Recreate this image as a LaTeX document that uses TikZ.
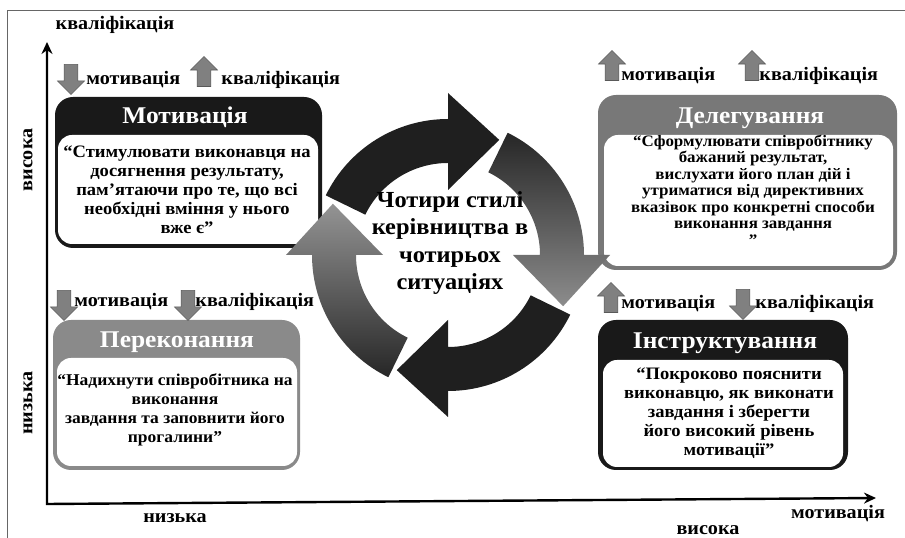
\documentclass[tikz,border=0pt]{standalone}
\usepackage{fontspec}
\setmainfont{Liberation Serif}[FakeStretch=1.06]
\usetikzlibrary{arrows.meta,positioning,shapes.arrows}
\tikzset{>={Stealth[length=12pt,width=11pt]}}

\begin{document}
\begin{tikzpicture}[x=1pt,y=1pt,font=\bfseries]
	\tikzset{outer/.style={rectangle, rounded corners=18pt, inner sep=0pt},
		inbox/.style={rectangle, rounded corners=14pt, fill=white, inner sep=0pt},
		body/.style={align=center, inner sep=0pt, font=\bfseries\fontsize{17.5}{19}\selectfont},
		title/.style={text=white, inner sep=0pt, font=\bfseries\fontsize{24}{26}\selectfont},
		lbl/.style={inner sep=0pt, font=\bfseries\fontsize{19}{20}\selectfont},
		uparr/.style={single arrow, shape border rotate=90, fill=black!50, draw=black!65,
			line width=.6pt, inner sep=6.5pt, minimum height=30pt, minimum width=27pt,
			single arrow head extend=6.5pt, single arrow head indent=0pt},
		dnarr/.style={uparr, shape border rotate=270},
		ringdark/.style={fill=black!88},
		ringgrayup/.style={top color=black!42, bottom color=black!85},
		ringgraydn/.style={top color=black!85, bottom color=black!45},
	}
	\useasboundingbox (0,0) rectangle (905,538);
	\draw[black!60, line width=1.4pt] (7.5,0) -- (7.5,527.5) -- (905,527.5);
	
	% axes
	\coordinate (o) at (47,34);
	\coordinate (ytip) at (47,496);
	\coordinate (xtip) at (876,40);
	\draw[<->, line width=2.4pt] (ytip) -- (o) -- (xtip);
	\node [lbl] (ytop) at (115,513) {кваліфікація};
	\node [lbl, rotate=90] (yhigh) at (28,378) {висока};
	\node [lbl, rotate=90] (ylow) at (28,135) {низька};
	\node [lbl] (xlow) at (175,20) {низька};
	\node [lbl, anchor=base] (xhigh) at (708,3) {висока};
	\node [lbl, anchor=base] (xmot) at (838,19) {мотивація};
	
	% boxes
	\node [outer, fill=black!90, minimum width=267pt, minimum height=151pt] (motbox) at (188.5,365.5) {};
	\node [inbox, minimum width=260pt, minimum height=109pt] (motin) at (188,348.5) {};
	\node [title] (mottl) at (185,421) {Мотивація};
	\node [body] (mottx) at (187,348)
	{“Стимулювати виконавця на\\досягнення результату,\\пам’ятаючи про те, що всі\\необхідні вміння у нього\\вже є”};
	
	\node [outer, fill=black!46, minimum width=247pt, minimum height=150pt] (perbox) at (176.5,143) {};
	\node [inbox, minimum width=240pt, minimum height=108pt] (perin) at (177,126) {};
	\node [title] (pertl) at (177,196) {Переконання};
	\node [body, font=\bfseries\fontsize{16.5}{19}\selectfont] (pertx) at (175,128)
	{“Надихнути співробітника на\\виконання\\завдання та заповнити його\\прогалини”};
	
	\node [outer, fill=black!53, minimum width=299pt, minimum height=175pt] (delbox) at (747.5,355.5) {};
	\node [inbox, minimum width=289pt, minimum height=131pt] (delin) at (748.5,337.5) {};
	\node [title] (deltl) at (750,420) {Делегування};
	\node [body, font=\bfseries\fontsize{16}{16.5}\selectfont] (deltx) at (753,348)
	{“Сформулювати співробітнику\\бажаний результат,\\вислухати його план дій і\\утриматися від директивних\\вказівок про конкретні способи\\виконання завдання\\”};
	
	\node [outer, fill=black!90, minimum width=250pt, minimum height=150pt] (insbox) at (723,143) {};
	\node [inbox, minimum width=240pt, minimum height=107pt] (insin) at (723,124.5) {};
	\node [title] (instl) at (725,195) {Інструктування};
	\node [body] (instx) at (729,125)
	{“Покроково пояснити\\виконавцю, як виконати\\завдання і зберегти\\його високий рівень\\мотивації”};
	
	% small arrows
	\node [dnarr] (tla) at (71,462) {};
	\node [lbl, right=8pt of tla, yshift=-4pt] (tlm) {мотивація};
	\node [uparr] (tlb) at (204,463) {};
	\node [lbl, right=10pt of tlb, yshift=-5pt] (tlk) {кваліфікація};
	\node [uparr] (tra) at (612,469) {};
	\node [lbl, right=2pt of tra, yshift=-7pt] (trm) {мотивація};
	\node [uparr] (trb) at (752,469) {};
	\node [lbl, right=0pt of trb, yshift=-7pt] (trk) {кваліфікація};
	\node [dnarr] (bla) at (64,236) {};
	\node [lbl, right=3pt of bla] (blm) {мотивація};
	\node [dnarr] (blb) at (188,236) {};
	\node [lbl, right=0pt of blb] (blk) {кваліфікація};
	\node [uparr] (bra) at (611,237) {};
	\node [lbl, right=3pt of bra, yshift=-3pt] (brm) {мотивація};
	\node [dnarr] (brb) at (743,237) {};
	\node [lbl, right=5pt of brb, yshift=-3pt] (brk) {кваліфікація};
	
	% cycle
	\begin{scope}[shift={(448,283)}]
		\foreach \a/\s in {90/ringdark,0/ringgraydn,-90/ringdark,180/ringgrayup}
		\path[style=\s] ({\a+64}:136) arc[start angle=\a+64, end angle=\a, radius=136]
			-- (\a:162) -- ({\a-24}:126) -- (\a:65) -- (\a:92)
			arc[start angle=\a, end angle=\a+64, radius=92] -- cycle;
	\end{scope}
	\node [align=center, font=\bfseries\fontsize{23}{27.5}\selectfont] (cyc) at (450,295)
	{Чотири стилі\\керівництва в\\чотирьох\\ситуаціях};
\end{tikzpicture}
\end{document}
